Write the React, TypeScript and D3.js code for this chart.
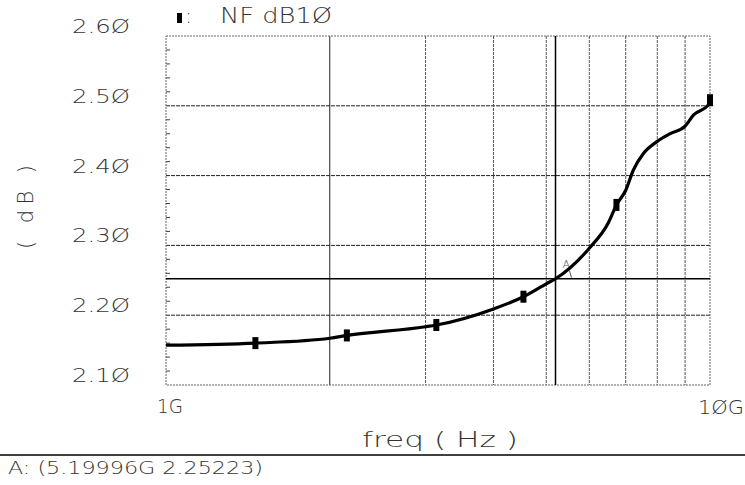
import React from "react";
import * as d3 from "d3";

const width = 745;
const height = 485;
const plot = { left: 166, right: 710, top: 36, bottom: 385 };

// NF dB10 (freq in Hz, value in dB)
const freqs = [1e9, 1.46e9, 2e9, 2.15e9, 3e9, 3.14e9, 4e9, 4.54e9, 5e9, 5.2e9, 6e9, 6.5e9, 6.73e9, 7e9, 7.23e9, 7.55e9, 8e9, 8.45e9, 9e9, 9.33e9, 9.92e9, 1e10];
const nf = [2.157, 2.16, 2.167, 2.171, 2.1835, 2.186, 2.209, 2.2265, 2.245, 2.2522, 2.296, 2.332, 2.358, 2.379, 2.408, 2.432, 2.449, 2.46, 2.471, 2.487, 2.501, 2.505];

const markerFreqs = [1.46e9, 2.15e9, 3.14e9, 4.54e9, 6.73e9, 1e10];
const markerVals = [2.16, 2.171, 2.186, 2.2265, 2.358, 2.508];

const yTicks = [2.1, 2.2, 2.3, 2.4, 2.5, 2.6];
const yTickLabels = ["2.1Ø", "2.2Ø", "2.3Ø", "2.4Ø", "2.5Ø", "2.6Ø"];
const xGrid = [2e9, 3e9, 4e9, 5e9, 6e9, 7e9, 8e9, 9e9];

const cursorFreq = 5.19996e9;
const cursorVal = 2.25223;

const font = "'DejaVu Sans', Arial, sans-serif";
const ink = "#333";

export default function App() {
  const x = d3.scaleLog().domain([1e9, 1e10]).range([plot.left, plot.right]);
  const y = d3.scaleLinear().domain([2.1, 2.6]).range([plot.bottom, plot.top]);

  const line = d3
    .line<number>()
    .x((_, i) => x(freqs[i]))
    .y(d => y(d))
    .curve(d3.curveMonotoneX);

  const minor = d3.range(2.1, 2.6, 0.02).filter((_, i) => i % 5 !== 0);

  return (
    <svg width={width} height={height} style={{ position: "absolute", left: 0, top: 0, background: "#fff" }} fontFamily={font} fontWeight={200}>
      {/* horizontal grid */}
      {yTicks.slice(1, -1).map((t, i) => (
        <line key={i} x1={plot.left} x2={plot.right} y1={y(t)} y2={y(t)} stroke="#222" strokeWidth={1} strokeDasharray="4,1" />
      ))}
      {/* vertical grid */}
      {xGrid.map((f, i) => (
        <line key={i} x1={x(f)} x2={x(f)} y1={plot.top} y2={plot.bottom} stroke={i === 0 ? "#222" : "#555"} strokeWidth={1} strokeDasharray={i === 0 ? undefined : "3,1"} />
      ))}
      {/* frame */}
      <rect x={plot.left} y={plot.top} width={plot.right - plot.left} height={plot.bottom - plot.top} fill="none" stroke="#666" strokeWidth={1} strokeDasharray="2,1" />
      {/* minor ticks on left */}
      {minor.map((t, i) => (
        <line key={i} x1={plot.left} x2={plot.left + 4} y1={y(t)} y2={y(t)} stroke="#444" />
      ))}

      {/* cursor */}
      <line x1={x(cursorFreq)} x2={x(cursorFreq)} y1={plot.top} y2={plot.bottom} stroke="#000" strokeWidth={1.5} />
      <line x1={plot.left} x2={plot.right} y1={y(cursorVal)} y2={y(cursorVal)} stroke="#000" strokeWidth={1.5} />
      <text x={x(cursorFreq) + 7} y={y(cursorVal) - 11} fontSize={11} fill="#555">A</text>
      <line x1={x(cursorFreq) + 14} x2={x(cursorFreq) + 16} y1={y(cursorVal) - 8} y2={y(cursorVal) - 1} stroke="#555" />

      {/* curve */}
      <path d={line(nf) || ""} fill="none" stroke="#000" strokeWidth={3.2} />
      {markerFreqs.map((f, i) => (
        <rect key={i} x={x(f) - 3} y={y(markerVals[i]) - 6} width={6} height={12} fill="#000" />
      ))}

      {/* y tick labels */}
      {yTicks.map((t, i) => (
        <text key={i} x={130} y={y(t) - 3} textAnchor="end" fontSize={20} fill={ink} textLength={58} lengthAdjust="spacingAndGlyphs">
          {yTickLabels[i]}
        </text>
      ))}
      <text transform="translate(33,207) rotate(-90)" textAnchor="middle" fontSize={21} fill={ink} textLength={84} lengthAdjust="spacing">( dB )</text>

      {/* x labels */}
      <text x={157} y={413} fontSize={20} fill={ink} textLength={26} lengthAdjust="spacingAndGlyphs">1G</text>
      <text x={698} y={414} fontSize={20} fill={ink} textLength={46} lengthAdjust="spacingAndGlyphs">1ØG</text>
      <text x={362} y={447} fontSize={21} fill={ink} textLength={156} lengthAdjust="spacingAndGlyphs">freq ( Hz )</text>

      {/* legend */}
      <rect x={177} y={13} width={5} height={10} fill="#000" />
      <text x={185} y={23} fontSize={21} fill={ink}>:</text>
      <text x={220} y={23} fontSize={21} fill={ink} textLength={112} lengthAdjust="spacingAndGlyphs">NF dB1Ø</text>

      {/* cursor readout */}
      <line x1={0} x2={width} y1={455} y2={455} stroke="#000" strokeWidth={1.5} />
      <text x={8} y={474} fontSize={18} fill={ink} textLength={255} lengthAdjust="spacingAndGlyphs">A: (5.19996G 2.25223)</text>
    </svg>
  );
}
